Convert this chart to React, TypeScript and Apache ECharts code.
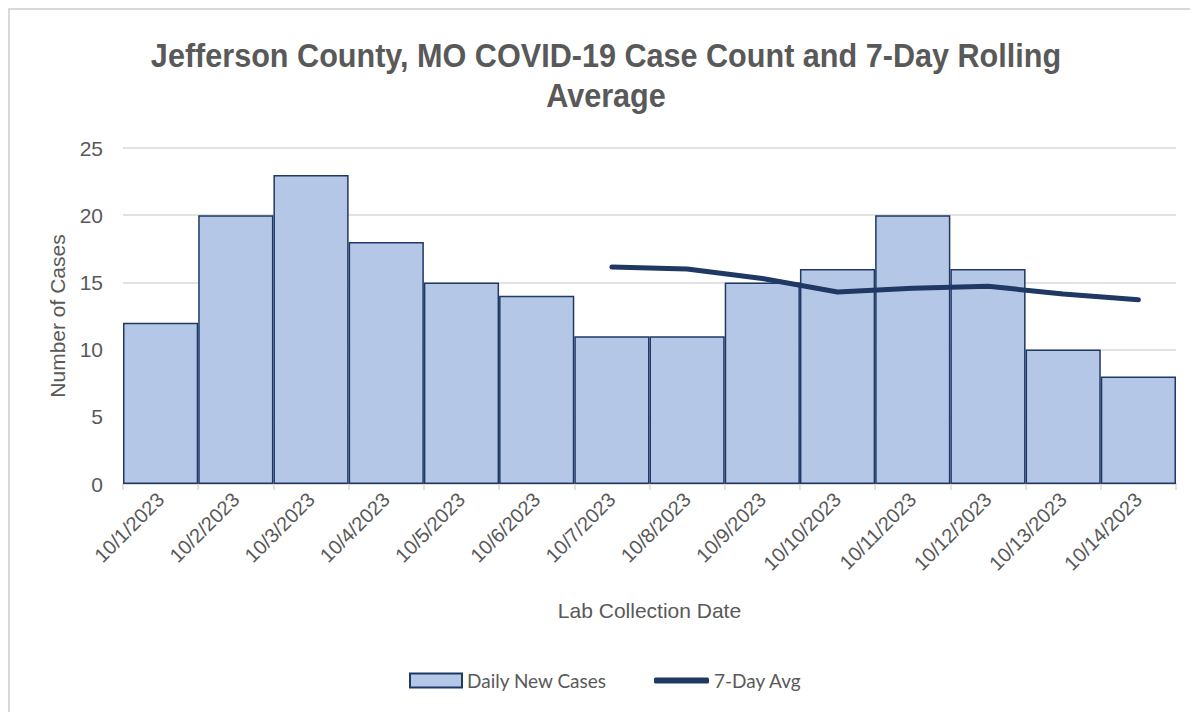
import React, { useEffect, useRef } from "react";
import * as echarts from "echarts";

const categories = [
  "10/1/2023", "10/2/2023", "10/3/2023", "10/4/2023", "10/5/2023", "10/6/2023", "10/7/2023",
  "10/8/2023", "10/9/2023", "10/10/2023", "10/11/2023", "10/12/2023", "10/13/2023", "10/14/2023",
];
const dailyNewCases = [12, 20, 23, 18, 15, 14, 11, 11, 15, 16, 20, 16, 10, 8];
const sevenDayAvg: (number | null)[] = [null, null, null, null, null, null, 16.14, 16.0, 15.29, 14.29, 14.57, 14.71, 14.14, 13.71];
const yTicks = { min: 0, max: 25, interval: 5 };
const titleLines = ["Jefferson County, MO COVID-19 Case Count and 7-Day Rolling", "Average"];

export default function App() {
  const ref = useRef<HTMLDivElement>(null);
  useEffect(() => {
    if (!ref.current) return;
    const chart = echarts.init(ref.current, null, { renderer: "svg" });
    const gray = "#595959";
    const sans = "'Liberation Sans', Arial, sans-serif";
    const legendFont = { fontFamily: "Lato, 'Open Sans', sans-serif", fontSize: 19, color: gray };
    chart.setOption({
      animation: false,
      graphic: titleLines.map((t, i) => ({
        type: "text",
        x: 596,
        y: 45 + i * 40,
        scaleX: 0.9,
        style: {
          text: t,
          align: "center",
          verticalAlign: "middle",
          fill: gray,
          font: `bold 34px ${sans}`,
        },
      })),
      grid: { left: 113, right: 22, top: 138, bottom: 228 },
      legend: [
        {
          left: 394,
          top: 656,
          itemWidth: 52,
          itemHeight: 14,
          textStyle: legendFont,
          data: [{ name: "Daily New Cases", icon: "rect" }],
        },
        {
          left: 639,
          top: 656,
          itemWidth: 55,
          itemHeight: 6,
          textStyle: legendFont,
          data: [{ name: "7-Day Avg", icon: "roundRect" }],
        },
      ],
      xAxis: {
        type: "category",
        data: categories,
        name: "Lab Collection Date",
        nameLocation: "middle",
        nameGap: 116,
        nameTextStyle: { fontFamily: sans, fontSize: 21, color: gray },
        axisLine: { lineStyle: { color: "#d9d9d9", width: 2 } },
        axisTick: { show: true, length: 6, lineStyle: { color: "#d9d9d9", width: 1.5 } },
        axisLabel: { rotate: 45, fontFamily: sans, fontSize: 20, color: gray, margin: 12, interval: 0 },
      },
      yAxis: {
        type: "value",
        min: yTicks.min,
        max: yTicks.max,
        interval: yTicks.interval,
        name: "Number of Cases",
        nameLocation: "middle",
        nameGap: 55,
        nameTextStyle: { fontFamily: sans, fontSize: 21, color: gray },
        axisLine: { show: false },
        axisTick: { show: false },
        axisLabel: { fontFamily: sans, fontSize: 21, color: gray, margin: 20 },
        splitLine: { lineStyle: { color: "#d9d9d9", width: 1.5 } },
      },
      series: [
        {
          name: "Daily New Cases",
          type: "bar",
          data: dailyNewCases,
          barCategoryGap: "0%",
          itemStyle: { color: "#b4c7e7", borderColor: "#1f3864", borderWidth: 1.5 },
        },
        {
          name: "7-Day Avg",
          type: "line",
          data: sevenDayAvg,
          symbol: "none",
          showSymbol: false,
          lineStyle: { color: "#203864", width: 5, cap: "round", join: "round" },
          itemStyle: { color: "#203864" },
        },
      ],
    });
    return () => chart.dispose();
  }, []);
  return (
    <div
      style={{
        width: 1190,
        height: 704,
        borderLeft: "2px solid #d9d9d9",
        borderTop: "2px solid #d9d9d9",
        boxSizing: "border-box",
        overflow: "hidden",
      }}
    >
      <div ref={ref} style={{ width: 1188, height: 702 }} />
    </div>
  );
}
